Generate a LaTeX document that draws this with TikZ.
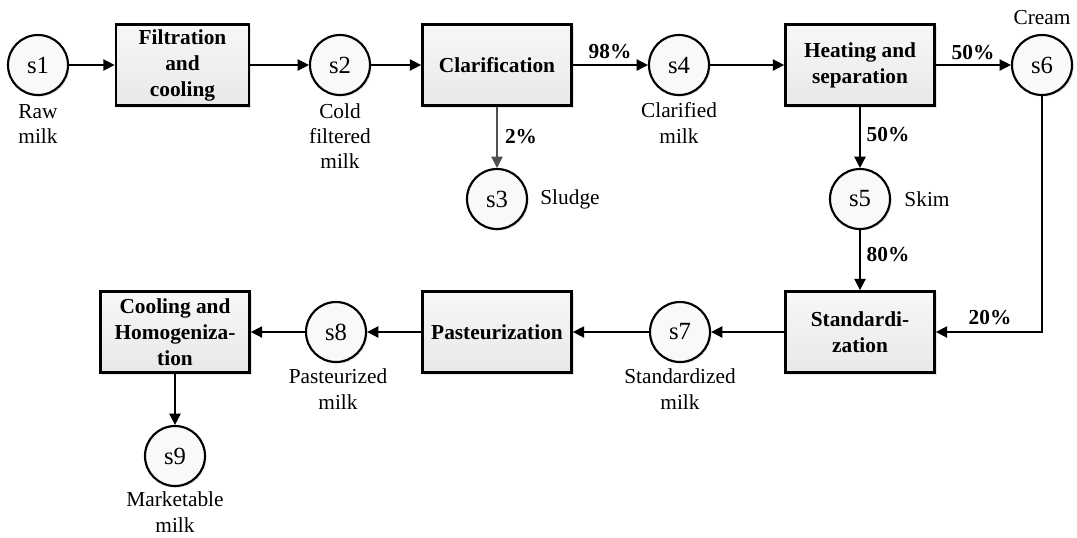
\documentclass[tikz,border=0pt]{standalone}
\usepackage{fontspec}
\setmainfont{Liberation Serif}
\usetikzlibrary{arrows.meta,shadows}
\begin{document}
\begin{tikzpicture}[x=0.75pt,y=-0.75pt,
  font=\fontsize{16}{19}\selectfont,
  stream/.style={circle,draw,line width=1.6pt,minimum size=45pt,inner sep=0pt,fill=gray!5,
    font=\fontsize{18.5}{20}\selectfont,
    drop shadow={shadow xshift=1.2pt,shadow yshift=-1.2pt,fill=gray!50,opacity=0.4}},
  proc/.style={draw,line width=1.8pt,minimum width=112pt,minimum height=61pt,inner sep=2pt,
    align=center,font=\fontsize{16}{19.5}\selectfont\bfseries,top color=gray!6,bottom color=gray!18,
    drop shadow={shadow xshift=1.5pt,shadow yshift=-1.5pt,fill=gray!50,opacity=0.4}},
  lbl/.style={align=center,inner sep=0pt},
  pct/.style={inner sep=0pt,font=\fontsize{16}{19}\selectfont\bfseries},
  flow/.style={line width=1.1pt,-{Triangle[length=8.5pt,width=8.5pt]}}]
\useasboundingbox (0,0) rectangle (1077,537);
% streams
\node[stream] (s1) at (38,65) {s1};
\node[stream] (s2) at (340,65) {s2};
\node[stream] (s3) at (497,199) {s3};
\node[stream] (s4) at (679,65) {s4};
\node[stream] (s5) at (860,199) {s5};
\node[stream] (s6) at (1042,65) {s6};
\node[stream] (s7) at (680,332) {s7};
\node[stream] (s8) at (336,332) {s8};
\node[stream] (s9) at (175,456) {s9};
% processes
\node[proc,minimum width=100pt] (f) at (182.5,65) {Filtration\\and\\cooling};
\node[proc] (c) at (497,65) {Clarification};
\node[proc] (h) at (860,65) {Heating and\\separation};
\node[proc] (st) at (860,332) {Standardi-\\zation};
\node[proc] (p) at (497,332) {Pasteurization};
\node[proc] (ch) at (175,332) {Cooling and\\Homogeniza-\\tion};
% labels
\node[lbl] (l1) at (38,124) {Raw\\milk};
\node[lbl] (l2) at (340,136) {Cold\\filtered\\milk};
\node[lbl] (l3) at (570,199) {Sludge};
\node[lbl] (l4) at (679,123) {Clarified\\milk};
\node[lbl] (l5) at (927,199) {Skim};
\node[lbl] (l6) at (1042,18) {Cream};
\node[lbl] (l7) at (680,389) {Standardized\\milk};
\node[lbl] (l8) at (338,389) {Pasteurized\\milk};
\node[lbl] (l9) at (175,512) {Marketable\\milk};
% percentages
\node[pct] (p98) at (610,52) {98\%};
\node[pct] (p2) at (521,137) {2\%};
\node[pct] (p50a) at (973,53) {50\%};
\node[pct] (p50b) at (888,135) {50\%};
\node[pct] (p80) at (888,255) {80\%};
\node[pct] (p20) at (990,318) {20\%};
% flows
\draw[flow] (s1) -- (f);
\draw[flow] (f) -- (s2);
\draw[flow] (s2) -- (c);
\draw[flow] (c) -- (s4);
\draw[flow,draw={rgb,255:red,80;green,80;blue,80}] (c) -- (s3);
\draw[flow] (s4) -- (h);
\draw[flow] (h) -- (s6);
\draw[flow] (h) -- (s5);
\draw[flow] (s5) -- (st);
\draw[flow] (s6.south) |- (st.east);
\draw[flow] (st) -- (s7);
\draw[flow] (s7) -- (p);
\draw[flow] (p) -- (s8);
\draw[flow] (s8) -- (ch);
\draw[flow] (ch) -- (s9);
\end{tikzpicture}
\end{document}
